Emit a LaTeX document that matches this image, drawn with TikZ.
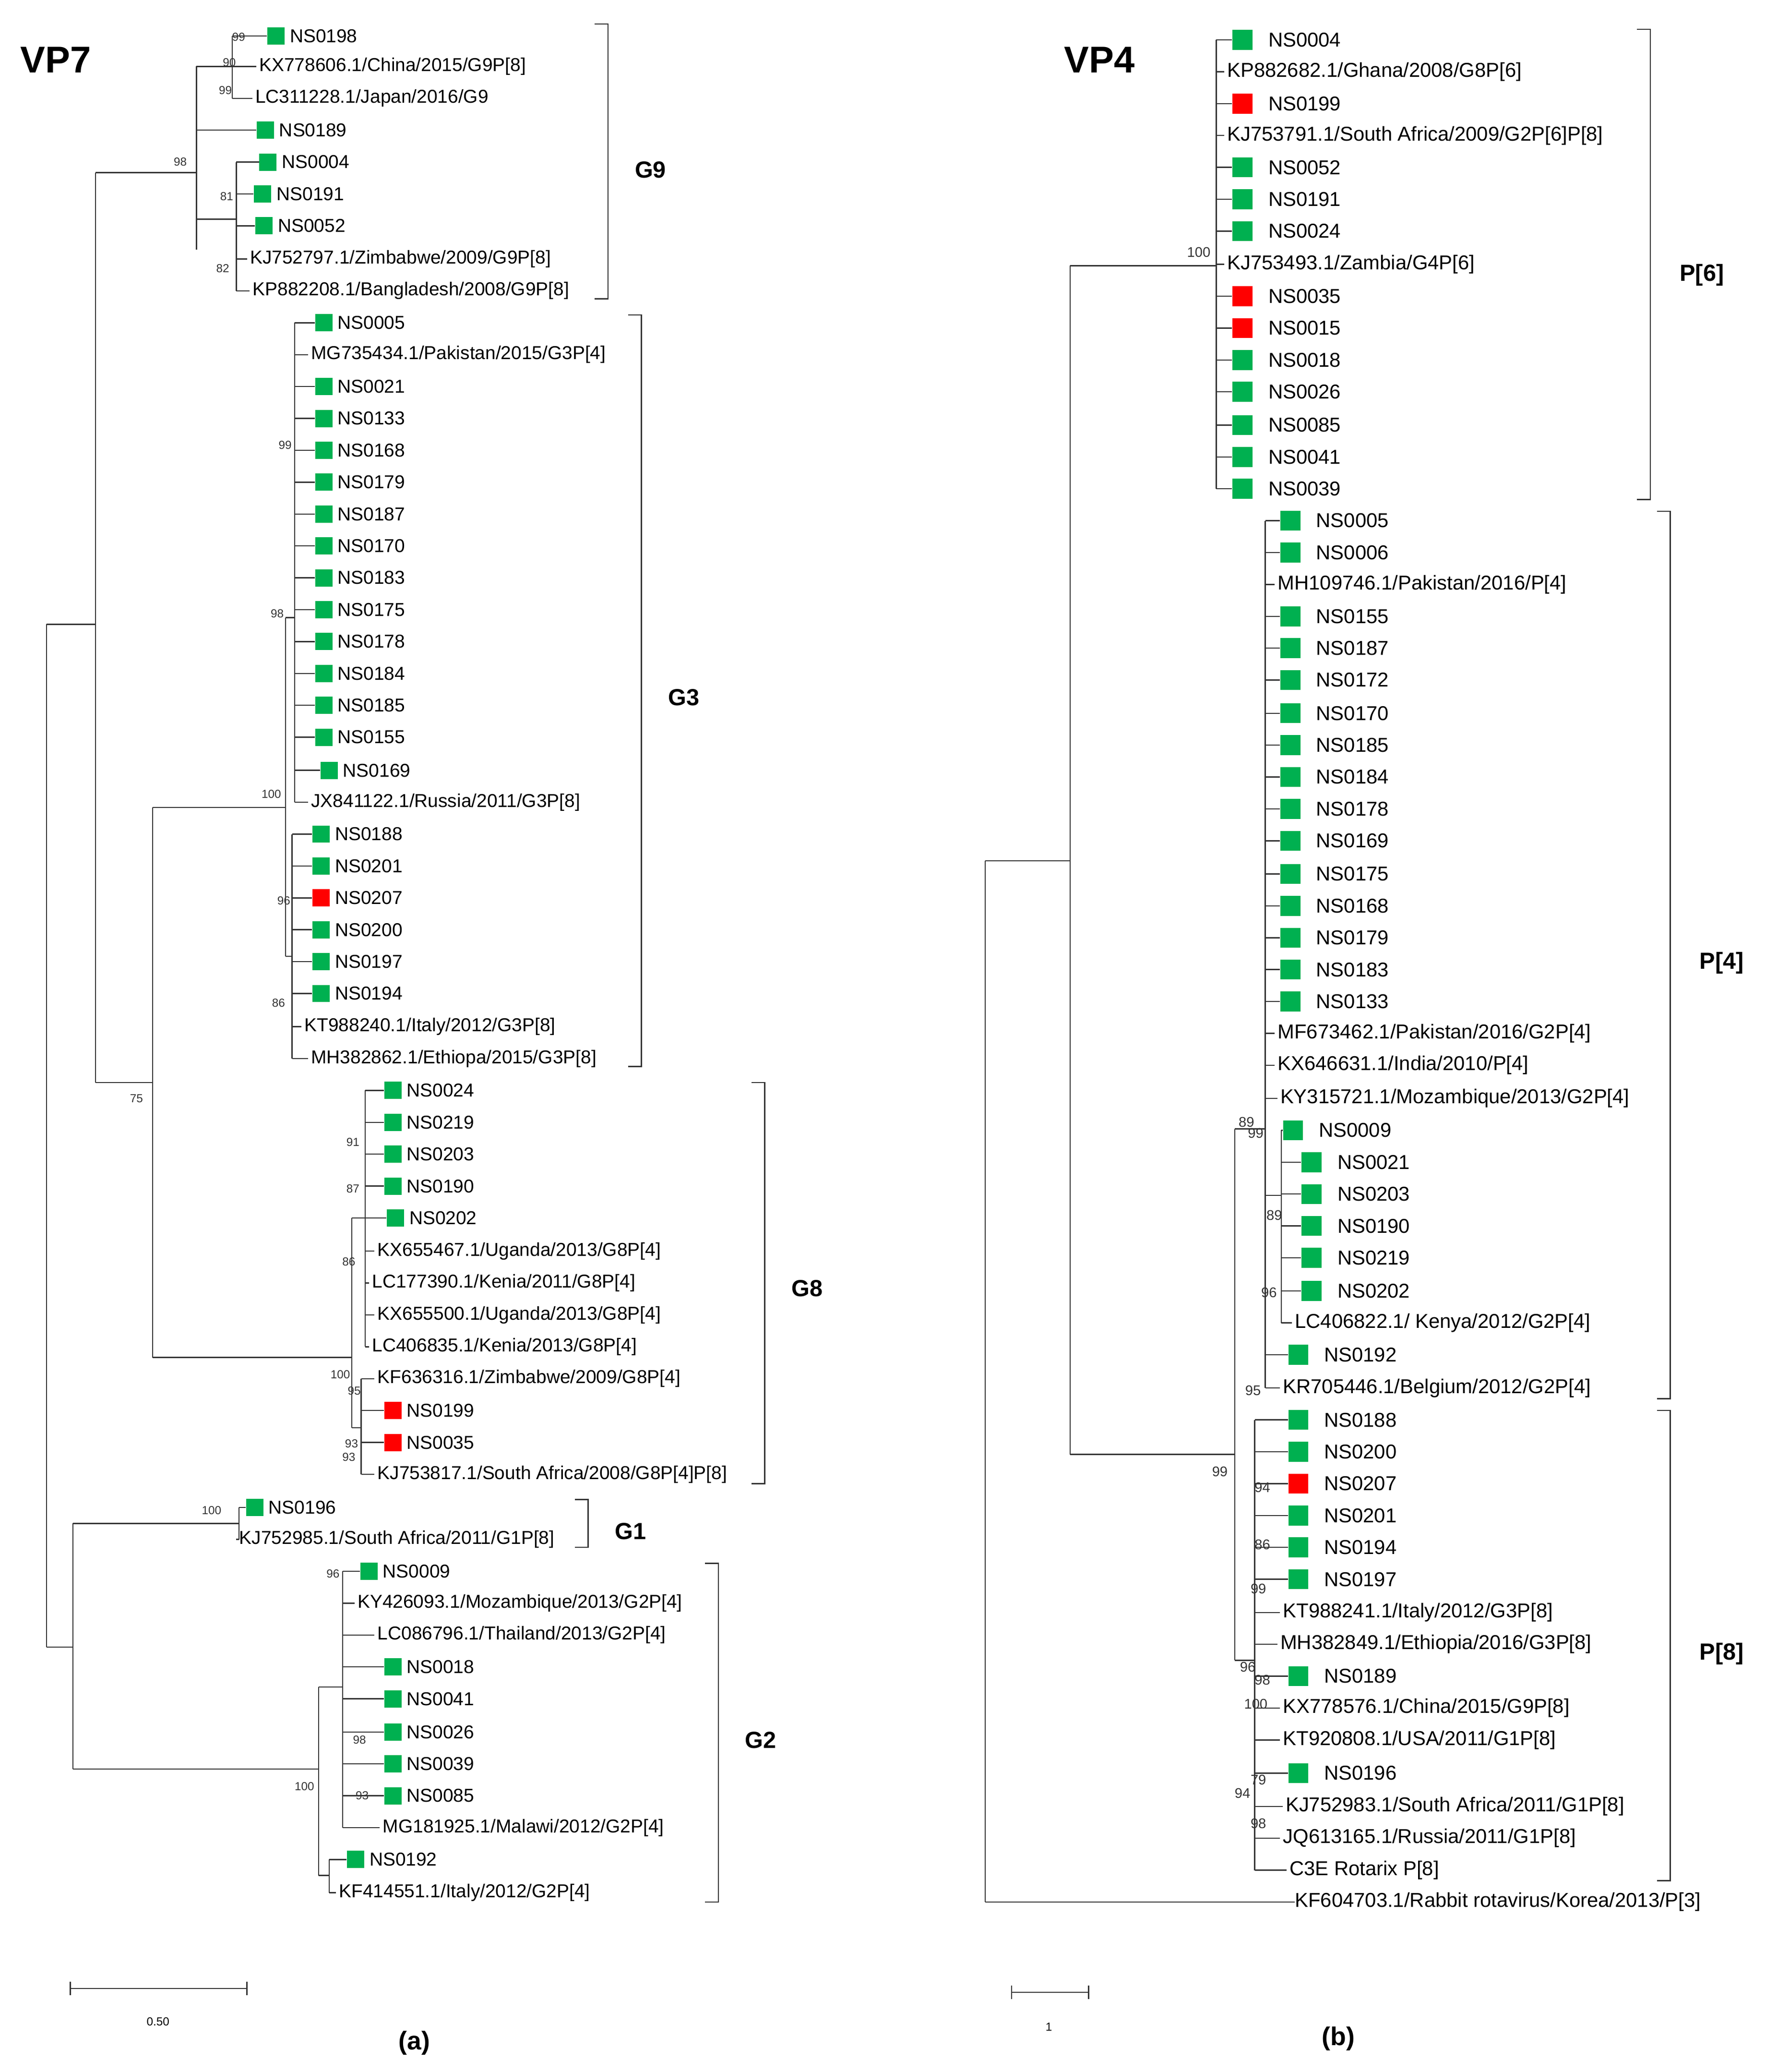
\documentclass[tikz,border=0pt]{standalone}
\usepackage{fontspec}
\setmainfont{Liberation Sans}
\definecolor{gsq}{HTML}{00B050}
\definecolor{rsq}{HTML}{FF0000}
\begin{document}
\begin{tikzpicture}[x=0.02cm,y=-0.02cm,
 br/.style={line width=0.5pt,black!80},
 lf/.style={anchor=west,inner sep=0pt,font=\fontsize{8}{9}\selectfont},
 rf/.style={anchor=west,inner sep=0pt,font=\fontsize{8.6}{9}\selectfont},
 bs/.style={anchor=east,inner sep=0pt,font=\fontsize{5}{6}\selectfont,black!80},
 cl/.style={font=\bfseries\fontsize{10}{12}\selectfont},
 tt/.style={font=\bfseries\fontsize{16}{18}\selectfont}]
\useasboundingbox (0,0) rectangle (1330,1560);
% ---------- LEFT TREE ----------
\node[tt] (vp7) at (42,45) {VP7};
\draw[br] (35,470)--(35,1240) (35,470)--(72,470) (72,130)--(72,815) (72,130)--(148,130)
 (72,815)--(115,815) (115,608)--(115,1022) (35,1240)--(55,1240) (55,1147)--(55,1332)
 (148,50)--(148,188) (148,50)--(175,50) (175,27)--(175,74) (148,165)--(178,165) (178,122)--(178,219)
 (115,608)--(215,608) (215,465)--(215,720) (215,465)--(222,465) (222,243)--(222,604) (215,720)--(220,720) (220,628)--(220,797)
 (115,1022)--(265,1022) (265,917)--(265,1075) (265,917)--(275,917) (275,821)--(275,1014) (265,1075)--(272,1075) (272,1038)--(272,1110)
 (55,1147)--(180,1147) (180,1135)--(180,1159)
 (55,1332)--(240,1332) (240,1270)--(240,1412) (240,1270)--(258,1270) (258,1183)--(258,1376) (240,1412)--(248,1412) (248,1400)--(248,1425);
\foreach \y/\px/\sx/\c/\t [count=\i] in {27/175/201/gsq/NS0198,98/148/193/gsq/NS0189,122/178/195/gsq/NS0004,146/178/191/gsq/NS0191,170/178/192/gsq/NS0052,
 243/222/237/gsq/NS0005,291/222/237/gsq/NS0021,315/222/237/gsq/NS0133,339/222/237/gsq/NS0168,363/222/237/gsq/NS0179,387/222/237/gsq/NS0187,411/222/237/gsq/NS0170,435/222/237/gsq/NS0183,459/222/237/gsq/NS0175,483/222/237/gsq/NS0178,507/222/237/gsq/NS0184,531/222/237/gsq/NS0185,555/222/237/gsq/NS0155,580/222/241/gsq/NS0169,
 628/220/235/gsq/NS0188,652/220/235/gsq/NS0201,676/220/235/rsq/NS0207,700/220/235/gsq/NS0200,724/220/235/gsq/NS0197,748/220/235/gsq/NS0194,
 821/275/289/gsq/NS0024,845/275/289/gsq/NS0219,869/275/289/gsq/NS0203,893/275/289/gsq/NS0190,917/275/291/gsq/NS0202,1062/272/289/rsq/NS0199,1086/272/289/rsq/NS0035,
 1135/180/185/gsq/NS0196,1183/258/271/gsq/NS0009,1255/258/289/gsq/NS0018,1279/258/289/gsq/NS0041,1304/258/289/gsq/NS0026,1328/258/289/gsq/NS0039,1352/258/289/gsq/NS0085,1400/248/261/gsq/NS0192}
{\draw[br] (\px,\y)--(\sx,\y);
 \node[fill=\c,minimum size=0.26cm,inner sep=0pt,anchor=west] (ls\i) at (\sx,\y) {};
 \node[lf] (lt\i) at (\sx+17,\y) {\t};}
\foreach \y/\px/\tx/\t [count=\i] in {50/175/193/{KX778606.1/China/2015/G9P[8]},74/175/190/{LC311228.1/Japan/2016/G9},195/178/186/{KJ752797.1/Zimbabwe/2009/G9P[8]},219/178/188/{KP882208.1/Bangladesh/2008/G9P[8]},
 267/222/232/{MG735434.1/Pakistan/2015/G3P[4]},604/222/232/{JX841122.1/Russia/2011/G3P[8]},773/220/227/{KT988240.1/Italy/2012/G3P[8]},797/220/232/{MH382862.1/Ethiopa/2015/G3P[8]},
 942/275/282/{KX655467.1/Uganda/2013/G8P[4]},966/275/278/{LC177390.1/Kenia/2011/G8P[4]},990/275/282/{KX655500.1/Uganda/2013/G8P[4]},1014/275/278/{LC406835.1/Kenia/2013/G8P[4]},1038/272/282/{KF636316.1/Zimbabwe/2009/G8P[4]},1110/272/282/{KJ753817.1/South Africa/2008/G8P[4]P[8]},
 1159/180/178/{KJ752985.1/South Africa/2011/G1P[8]},1207/258/267/{KY426093.1/Mozambique/2013/G2P[4]},1231/258/282/{LC086796.1/Thailand/2013/G2P[4]},1376/258/286/{MG181925.1/Malawi/2012/G2P[4]},1425/248/253/{KF414551.1/Italy/2012/G2P[4]}}
{\draw[br] (\px,\y)--(\tx,\y); \node[lf] (lx\i) at (\tx+2,\y) {\t};}
\foreach \x/\y/\t [count=\i] in {185/28/99,178/47/90,175/68/99,141/122/98,176/148/81,173/202/82,220/335/99,214/462/98,212/598/100,219/678/96,215/755/86,108/827/75,
 271/860/91,271/895/87,268/950/86,264/1035/100,272/1047/95,270/1087/93,268/1097/93,167/1137/100,256/1185/96,276/1310/98,278/1352/93,237/1345/100}
{\node[bs] (lb\i) at (\x,\y) {\t};}
\foreach \a/\b/\x/\ly/\t [count=\i] in {18/225/458/128/G9,237/803/483/525/G3,815/1117/576/970/G8,1129/1165/443/1153/G1,1177/1432/541/1310/G2}
{\draw[br] (\x-10,\a)--(\x,\a)--(\x,\b)--(\x-10,\b);
 \node[cl,anchor=west] (lc\i) at (\x+14,\ly) {\t};}
\draw[br] (53,1492)--(53,1502) (53,1497)--(186,1497) (186,1492)--(186,1502);
\node[font=\fontsize{5}{6}\selectfont] (sl) at (119,1522) {0.50};
\node[font=\rmfamily\bfseries\fontsize{11}{13}\selectfont] (pa) at (312,1538) {(a)};
% ---------- RIGHT TREE ----------
\node[tt] (vp4) at (828,45) {VP4};
\draw[br] (742,648)--(742,1432) (742,648)--(806,648) (806,200)--(806,1095) (806,200)--(916,200) (916,30)--(916,368)
 (806,1095)--(930,1095) (930,850)--(930,1250) (930,850)--(953,850) (953,392)--(953,1045) (953,900)--(965,900) (965,851)--(965,996)
 (930,1250)--(945,1250) (945,1069)--(945,1408) (742,1432)--(975,1432);
\foreach \y/\px/\sx/\c/\t [count=\i] in {30/916/928/gsq/NS0004,78/916/928/rsq/NS0199,126/916/928/gsq/NS0052,150/916/928/gsq/NS0191,174/916/928/gsq/NS0024,223/916/928/rsq/NS0035,247/916/928/rsq/NS0015,271/916/928/gsq/NS0018,295/916/928/gsq/NS0026,320/916/928/gsq/NS0085,344/916/928/gsq/NS0041,368/916/928/gsq/NS0039,
 392/953/964/gsq/NS0005,416/953/964/gsq/NS0006,464/953/964/gsq/NS0155,488/953/964/gsq/NS0187,512/953/964/gsq/NS0172,537/953/964/gsq/NS0170,561/953/964/gsq/NS0185,585/953/964/gsq/NS0184,609/953/964/gsq/NS0178,633/953/964/gsq/NS0169,658/953/964/gsq/NS0175,682/953/964/gsq/NS0168,706/953/964/gsq/NS0179,730/953/964/gsq/NS0183,754/953/964/gsq/NS0133,
 851/965/966/gsq/NS0009,875/965/980/gsq/NS0021,899/965/980/gsq/NS0203,923/965/980/gsq/NS0190,947/965/980/gsq/NS0219,972/965/980/gsq/NS0202,1020/953/970/gsq/NS0192,
 1069/945/970/gsq/NS0188,1093/945/970/gsq/NS0200,1117/945/970/rsq/NS0207,1141/945/970/gsq/NS0201,1165/945/970/gsq/NS0194,1189/945/970/gsq/NS0197,1262/945/970/gsq/NS0189,1335/945/970/gsq/NS0196}
{\draw[br] (\px,\y)--(\sx,\y);
 \node[fill=\c,minimum size=0.3cm,inner sep=0pt,anchor=west] (rs\i) at (\sx,\y) {};
 \node[rf] (rt\i) at (\sx+27,\y) {\t};}
\foreach \y/\px/\tx/\t [count=\i] in {54/916/922/{KP882682.1/Ghana/2008/G8P[6]},102/916/922/{KJ753791.1/South Africa/2009/G2P[6]P[8]},199/916/922/{KJ753493.1/Zambia/G4P[6]},
 440/953/960/{MH109746.1/Pakistan/2016/P[4]},778/953/960/{MF673462.1/Pakistan/2016/G2P[4]},802/953/960/{KX646631.1/India/2010/P[4]},827/953/962/{KY315721.1/Mozambique/2013/G2P[4]},
 996/965/973/{LC406822.1/ Kenya/2012/G2P[4]},1045/953/964/{KR705446.1/Belgium/2012/G2P[4]},
 1214/945/964/{KT988241.1/Italy/2012/G3P[8]},1238/945/962/{MH382849.1/Ethiopia/2016/G3P[8]},1286/945/964/{KX778576.1/China/2015/G9P[8]},1310/945/964/{KT920808.1/USA/2011/G1P[8]},
 1360/945/966/{KJ752983.1/South Africa/2011/G1P[8]},1384/945/964/{JQ613165.1/Russia/2011/G1P[8]},1408/945/969/{C3E Rotarix P[8]}}
{\draw[br] (\px,\y)--(\tx,\y); \node[rf] (rx\i) at (\tx+2,\y) {\t};}
\node[rf] (rk) at (975,1432) {KF604703.1/Rabbit rotavirus/Korea/2013/P[3]};
\foreach \x/\y/\t [count=\i] in {912/190/100,945/845/89,952/853/99,966/915/89,962/973/96,950/1047/95,925/1108/99,957/1120/94,957/1163/86,954/1196/99,946/1255/96,957/1265/98,955/1283/100,954/1340/79,942/1350/94,954/1373/98}
{\node[bs,font=\fontsize{6}{7}\selectfont] (rb\i) at (\x,\y) {\t};}
\foreach \a/\b/\x/\ly/\t [count=\i] in {22/376/1243/207/P[6],385/1053/1258/725/P[4],1062/1416/1258/1245/P[8]}
{\draw[br] (\x-10,\a)--(\x,\a)--(\x,\b)--(\x-10,\b);
 \node[cl,anchor=west] (rc\i) at (\x+16,\ly) {\t};}
\draw[br] (762,1495)--(762,1505) (762,1500)--(820,1500) (820,1495)--(820,1505);
\node[font=\fontsize{5}{6}\selectfont] (sr) at (790,1526) {1};
\node[font=\rmfamily\bfseries\fontsize{11}{13}\selectfont] (pb) at (1008,1535) {(b)};
\end{tikzpicture}
\end{document}
